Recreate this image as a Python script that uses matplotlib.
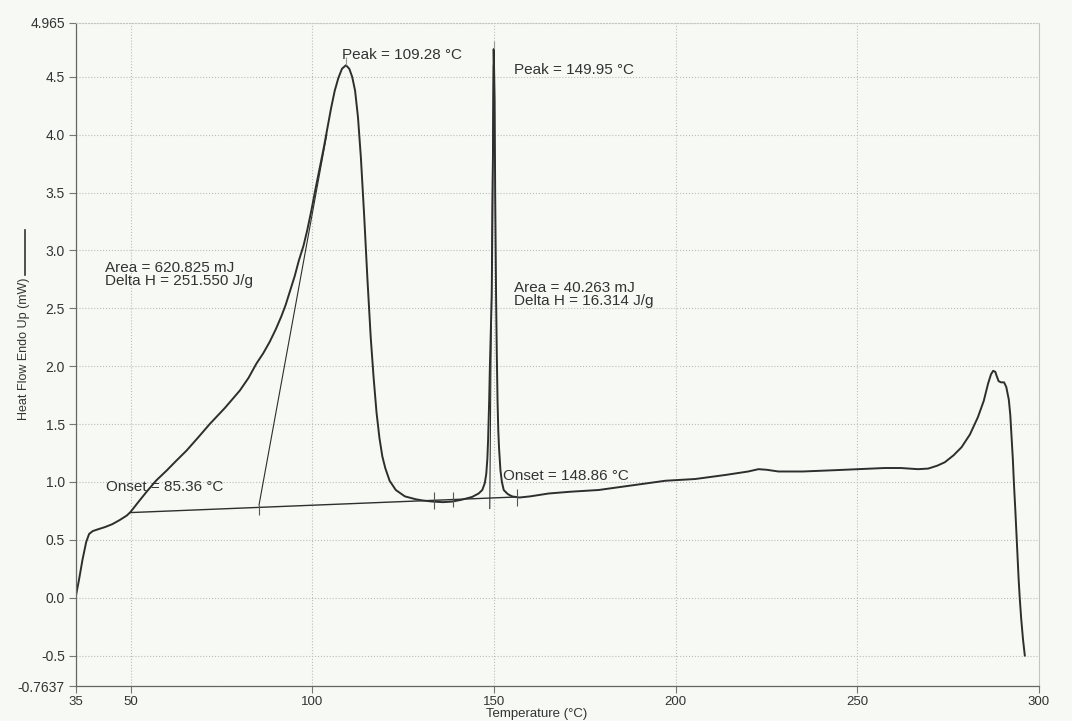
import matplotlib.pyplot as plt
from matplotlib.lines import Line2D

plt.rcParams['font.family'] = ['Liberation Sans', 'DejaVu Sans']

temperature = [35.0, 35.8, 36.8, 37.8, 38.6, 39.6, 41.0, 43.0, 45.0, 47.0, 49.0, 50.0,
               52.0, 54.3, 57.0, 60.0, 62.5, 65.4, 68.5, 71.8, 76.0, 80.1, 82.5, 84.6,
               86.5, 88.3, 90.0, 91.5, 92.7, 93.8, 95.2, 96.3, 97.6, 98.6, 99.8, 100.9,
               102.1, 103.2, 104.2, 105.2, 106.2, 107.2, 108.2, 109.28, 110.2, 111.0, 111.8,
               112.6, 113.4, 114.3, 115.2, 116.1, 116.9, 117.7, 118.5, 119.3, 120.1, 121.3,
               123.0, 125.5, 128.5, 130.3, 133.1, 136.0, 138.5, 141.0, 144.0, 145.8, 146.8,
               147.5, 147.9, 148.2, 148.4, 148.7, 148.9, 149.2, 149.4, 149.6, 149.8, 149.95,
               150.2, 150.35, 150.6, 150.8, 151.0, 151.2, 151.4, 151.8, 152.2, 152.7, 153.8,
               155.0, 157.0, 160.0, 165.1, 171.0, 178.8, 188.0, 197.2, 205.4, 213.7, 220.0,
               222.8, 225.0, 228.3, 235.0, 242.9, 250.0, 257.5, 262.0, 266.7, 269.5, 272.0,
               274.1, 276.5, 278.7, 281.0, 283.2, 284.8, 286.0, 286.8, 287.4, 288.0, 288.3,
               288.9, 289.6, 290.4, 291.0, 291.7, 292.1, 292.4, 292.8, 293.1, 293.5, 293.8,
               294.1, 294.4, 294.7, 295.1, 295.6, 296.1]
heat_flow = [0.02, 0.15, 0.33, 0.48, 0.55, 0.575, 0.59, 0.61, 0.635, 0.67, 0.71, 0.74,
             0.82, 0.91, 1.01, 1.10, 1.18, 1.27, 1.38, 1.50, 1.64, 1.79, 1.90, 2.02,
             2.11, 2.21, 2.32, 2.43, 2.53, 2.64, 2.78, 2.91, 3.04, 3.17, 3.35, 3.53,
             3.72, 3.89, 4.06, 4.23, 4.38, 4.49, 4.57, 4.60, 4.57, 4.50, 4.38,
             4.15, 3.80, 3.30, 2.75, 2.25, 1.90, 1.60, 1.38, 1.22, 1.12, 1.01,
             0.93, 0.875, 0.85, 0.84, 0.83, 0.825, 0.83, 0.845, 0.87, 0.90, 0.93,
             0.99, 1.07, 1.20, 1.36, 1.70, 2.00, 2.35, 2.60, 3.30, 4.04, 4.74,
             4.30, 3.50, 2.60, 2.10, 1.70, 1.45, 1.30, 1.10, 1.00, 0.93, 0.895,
             0.875, 0.865, 0.875, 0.90, 0.915, 0.93, 0.97, 1.01, 1.025, 1.06, 1.09,
             1.11, 1.105, 1.09, 1.09, 1.10, 1.11, 1.12, 1.12, 1.11, 1.115, 1.14,
             1.17, 1.23, 1.30, 1.41, 1.56, 1.70, 1.85, 1.93, 1.96, 1.95, 1.92,
             1.87, 1.86, 1.86, 1.82, 1.71, 1.58, 1.42, 1.20, 0.99, 0.75, 0.55,
             0.35, 0.16, 0.0, -0.18, -0.36, -0.50]

baseline_t = [50.0, 156.4]
baseline_hf = [0.735, 0.87]
tangent1_t = [85.36, 104.0]
tangent1_hf = [0.80, 4.0]
tangent2_t = [148.86, 149.85]
tangent2_hf = [0.77, 4.60]
limit_t = [85.36, 133.4, 138.8, 156.4]
limit_lo = [0.71, 0.77, 0.78, 0.79]
limit_hi = [0.80, 0.91, 0.91, 0.94]
peak_t = [109.28, 149.95]
peak_hf = [4.60, 4.74]

x_ticks = [35, 50, 100, 150, 200, 250, 300]
y_ticks = [-0.7637, -0.5, 0.0, 0.5, 1.0, 1.5, 2.0, 2.5, 3.0, 3.5, 4.0, 4.5, 4.965]
y_labels = ['-0.7637', '-0.5', '0.0', '0.5', '1.0', '1.5', '2.0', '2.5', '3.0',
            '3.5', '4.0', '4.5', '4.965']

paper = '#f7f9f4'
ink = '#2e2e2e'

fig = plt.figure(figsize=(10.72, 7.21), dpi=100, facecolor=paper)
ax = fig.add_axes([0.0709, 0.0485, 0.8983, 0.9196], facecolor=paper)

ax.plot(temperature, heat_flow, color=ink, linewidth=1.4, solid_joinstyle='round')
ax.plot(baseline_t, baseline_hf, color=ink, linewidth=1.0)
ax.plot(tangent1_t, tangent1_hf, color=ink, linewidth=0.8)
ax.plot(tangent2_t, tangent2_hf, color=ink, linewidth=0.8)
ax.vlines(limit_t, limit_lo, limit_hi, color='#555555', linewidth=0.8)
ax.vlines(peak_t, peak_hf, [h + 0.07 for h in peak_hf], color='#999999', linewidth=0.8)

txt = dict(fontsize=11, color='#333333', ha='left', va='center')
ax.text(108.3, 4.685, 'Peak = 109.28 °C', **txt)
ax.text(155.6, 4.555, 'Peak = 149.95 °C', **txt)
ax.text(43.0, 2.79, 'Area = 620.825 mJ\nDelta H = 251.550 J/g', linespacing=0.9, **txt)
ax.text(155.6, 2.62, 'Area = 40.263 mJ\nDelta H = 16.314 J/g', linespacing=0.9, **txt)
ax.text(43.2, 0.955, 'Onset = 85.36 °C', **txt)
ax.text(152.6, 1.05, 'Onset = 148.86 °C', **txt)

ax.set_xlim(35, 300)
ax.set_ylim(-0.7637, 4.965)
ax.set_xticks(x_ticks)
ax.set_yticks(y_ticks)
ax.set_yticklabels(y_labels)
ax.tick_params(direction='out', length=5, width=0.8, color='#777777',
               labelcolor='#333333')
ax.tick_params(axis='y', labelsize=10, pad=3)
ax.tick_params(axis='x', labelsize=9.5, pad=2)
ax.grid(True, linestyle=':', color='#bdbdbd', linewidth=0.8)

for side in ['left', 'bottom']:
    ax.spines[side].set_color('#666666')
    ax.spines[side].set_linewidth(0.9)
ax.spines['right'].set_color('#c4c4c4')
ax.spines['top'].set_color('#c4c4c4')
ax.spines['top'].set_linestyle(':')

fig.text(0.501, 0.002, 'Temperature (°C)', fontsize=9.5, color='#333333',
         ha='center', va='bottom')
fig.text(0.0224, 0.516, 'Heat Flow Endo Up (mW)', fontsize=9, color='#333333',
         rotation=90, ha='center', va='center')
fig.add_artist(Line2D([0.0233, 0.0233], [1 - 275 / 721, 1 - 230 / 721],
                      color='#333333', linewidth=1.2, transform=fig.transFigure))

fig.savefig('out.png', dpi=100, facecolor=paper)
